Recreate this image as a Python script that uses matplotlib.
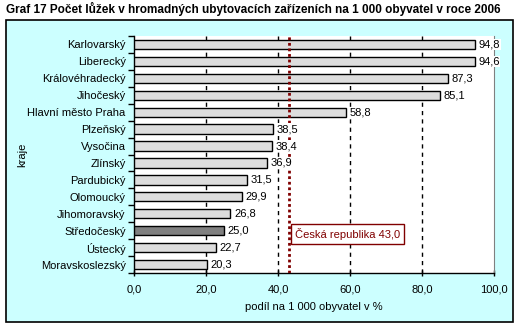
import matplotlib.pyplot as plt
from matplotlib.patches import Rectangle
from matplotlib.ticker import FuncFormatter, FixedLocator

plt.rcParams['font.family'] = ['Liberation Sans', 'DejaVu Sans']

kraje = ['Karlovarský', 'Liberecký', 'Královéhradecký', 'Jihočeský',
         'Hlavní město Praha', 'Plzeňský', 'Vysočina', 'Zlínský',
         'Pardubický', 'Olomoucký', 'Jihomoravský', 'Středočeský',
         'Ústecký', 'Moravskoslezský']
hodnoty = [94.8, 94.6, 87.3, 85.1, 58.8, 38.5, 38.4, 36.9,
           31.5, 29.9, 26.8, 25.0, 22.7, 20.3]
zvyraznit = 'Středočeský'
cr_prumer = 43.0

fig = plt.figure(figsize=(5.2, 3.3), dpi=100)
fig.patch.set_facecolor('white')

# light cyan chart area with black frame
fig.patches.append(Rectangle((6 / 520, 8 / 330), 507 / 520, 302 / 330,
                             transform=fig.transFigure, facecolor='#CCFFFF',
                             edgecolor='black', linewidth=1.2, zorder=-1))

fig.text(6 / 520, 1 - 9 / 330,
         'Graf 17 Počet lůžek v hromadných ubytovacích zařízeních na 1 000 obyvatel v roce 2006',
         fontsize=8.5, fontweight='bold', ha='left', va='center')

ax = fig.add_axes([134 / 520, 1 - 273 / 330, 360 / 520, 237 / 330])
ax.set_facecolor('white')

pos = list(range(len(kraje)))
barvy = ['#808080' if k == zvyraznit else '#DDDDDD' for k in kraje]
ax.barh(pos, hodnoty, height=0.55, color=barvy, edgecolor='black',
        linewidth=1, zorder=3)

for p, v in zip(pos, hodnoty):
    ax.text(v + 1.0, p, f'{v:.1f}'.replace('.', ','), fontsize=8,
            ha='left', va='center', zorder=5, clip_on=False,
            bbox=dict(facecolor='white', edgecolor='none', pad=0.5))

for g in [20, 40, 60, 80]:
    ax.axvline(g, color='black', linestyle=(0, (3, 3)), linewidth=1, zorder=1)

ax.axvline(cr_prumer, color='#800000', linestyle=(0, (1, 1)), linewidth=2, zorder=4)
ax.text(cr_prumer + 1.8, 11.2, 'Česká republika ' + f'{cr_prumer:.1f}'.replace('.', ','),
        fontsize=8, color='#800000', ha='left', va='center', zorder=6,
        bbox=dict(facecolor='white', edgecolor='#800000', linewidth=1,
                  boxstyle='square,pad=0.35'))

ax.set_xlim(0, 100)
ax.set_ylim(len(kraje) - 0.5, -0.5)
ax.set_xticks([0, 20, 40, 60, 80, 100])
ax.xaxis.set_major_formatter(FuncFormatter(lambda x, _: f'{x:.1f}'.replace('.', ',')))
ax.set_yticks(pos)
ax.set_yticklabels(kraje)
ax.yaxis.set_minor_locator(FixedLocator([p - 0.5 for p in pos] + [len(kraje) - 0.5]))
ax.tick_params(axis='y', which='major', length=0, labelsize=8, pad=6)
ax.tick_params(axis='y', which='minor', length=4, width=1, direction='out')
ax.tick_params(axis='x', length=4, width=1, direction='inout', labelsize=8, pad=6)

ax.spines['top'].set_visible(False)
ax.spines['right'].set_color('#808080')
ax.spines['left'].set_linewidth(1)
ax.spines['bottom'].set_linewidth(1)

ax.set_xlabel('podíl na 1 000 obyvatel v %', fontsize=8, labelpad=6)
fig.text(22 / 520, 1 - 155 / 330, 'kraje', fontsize=8, rotation=90,
         ha='center', va='center')

fig.savefig('out.png', dpi=100)
